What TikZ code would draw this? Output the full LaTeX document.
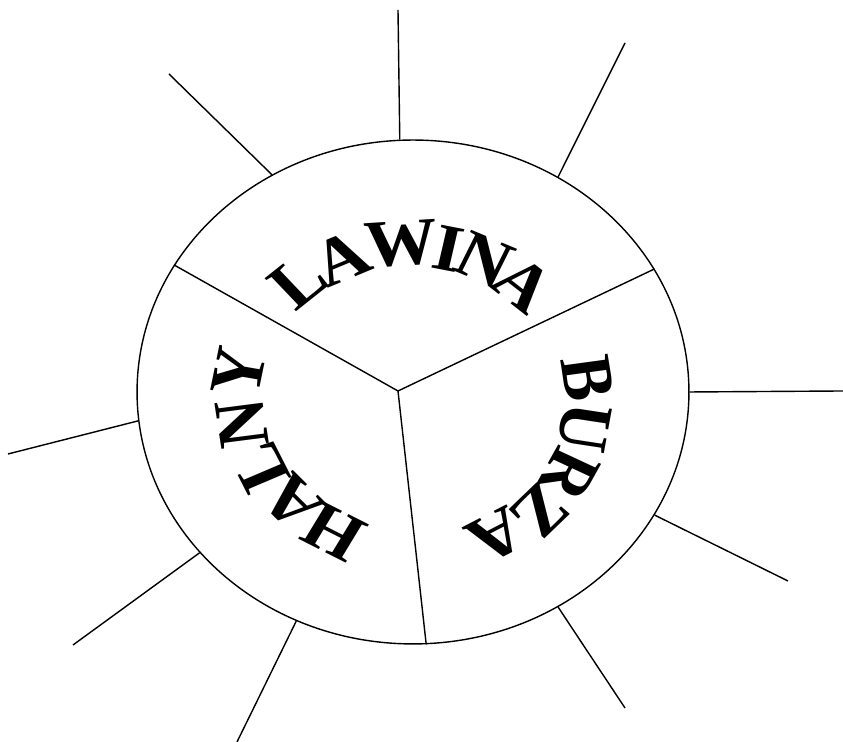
\documentclass[tikz,border=0pt]{standalone}
\usepackage{fontspec}
\setmainfont{Liberation Serif}
\usetikzlibrary{shapes.geometric}
\tikzset{
    rim/.style={ellipse, draw, line width=0.8pt, inner sep=0pt, minimum width=11.04cm, minimum height=10.08cm},
    ray/.style={line width=0.8pt},
    letter/.style={font=\fontsize{38}{40}\selectfont\bfseries, inner sep=0pt, transform shape},
}

\begin{document}
\begin{tikzpicture}[x=0.02cm, y=0.02cm]
    \useasboundingbox (0,0) rectangle (843,742);

    % --- Cerchio ---
    \node[rim] (disk) at (413,350) {};
    \coordinate (hub) at (398,351);

    % Divisori
    \foreach \a in {152.1, 27.4, 273.8}
        \draw[ray] (hub) -- (disk.\a);

    % Raggi
    \foreach \a/\x/\y in {93.4/398/732, 56.5/625/699, 0/843/351, -27.3/788/161, -56.3/625/34,
                          243.5/237/0, 217/73/97, 186.4/8/288, 123.1/169/668}
        \draw[ray] (disk.\a) -- (\x,\y);

    % Scritte (cerchio leggermente schiacciato)
    \begin{scope}[shift={(413,340)}, xscale=1.095]
        \foreach \ch/\ang/\r [count=\i] in {L/131/160, A/114.5/158, W/94/159, I/78/157, N/65.5/157, A/49.5/155}
            \node[letter, rotate=\ang-90] (lawina-\i) at (\ang:\r) {\ch};
        \foreach \ch/\ang/\r [count=\i] in {B/8.5/161, U/-9.5/159, R/-27/160, Z/-43.5/160, A/-60.5/154}
            \node[letter, rotate=\ang-90] (burza-\i) at (\ang:\r) {\ch};
        \foreach \ch/\ang/\r [count=\i] in {H/241/149, A/222.5/149, L/205/154, N/188/158, Y/169.4/162}
            \node[letter, rotate=\ang-90] (halny-\i) at (\ang:\r) {\ch};
    \end{scope}
\end{tikzpicture}
\end{document}
